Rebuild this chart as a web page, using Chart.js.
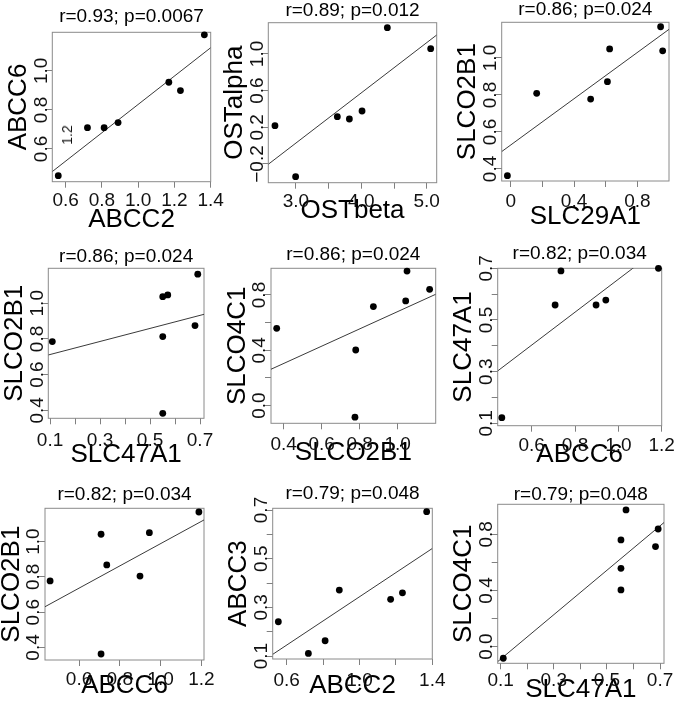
<!DOCTYPE html>
<html>
<head>
<meta charset="utf-8">
<script src="https://cdn.jsdelivr.net/npm/chart.js@4.4.1/dist/chart.umd.min.js"></script>
<style>
  body { margin: 0; background: #fff; }
  #fig { position: relative; width: 680px; height: 713px; font-family: "Liberation Sans", Arial, sans-serif; }
  #fig canvas { position: absolute; left: 0; top: 0; }
  .stray { position: absolute; font-size: 14px; color: #111; transform: translate(-50%, -50%) rotate(-90deg); }
</style>
</head>
<body>
<div id="fig"></div>
<script>
// ---- data ----
const titles = ['r=0.93; p=0.0067', 'r=0.89; p=0.012', 'r=0.86; p=0.024',
                'r=0.86; p=0.024', 'r=0.86; p=0.024', 'r=0.82; p=0.034',
                'r=0.82; p=0.034', 'r=0.79; p=0.048', 'r=0.79; p=0.048'];
const xNames = ['ABCC2', 'OSTbeta', 'SLC29A1', 'SLC47A1', 'SLCO2B1', 'ABCC6', 'ABCC6', 'ABCC2', 'SLC47A1'];
const yNames = ['ABCC6', 'OSTalpha', 'SLCO2B1', 'SLCO2B1', 'SLCO4C1', 'SLC47A1', 'SLCO2B1', 'ABCC3', 'SLCO4C1'];

const p1x = [0.559, 0.720, 0.812, 0.889, 1.169, 1.233, 1.365];
const p1y = [0.463, 0.709, 0.709, 0.735, 0.942, 0.899, 1.185];
const p2x = [2.679, 2.995, 3.633, 3.817, 4.011, 4.398, 5.061];
const p2y = [0.218, -0.338, 0.316, 0.291, 0.378, 1.287, 1.058];
const p3x = [-0.021, 0.164, 0.505, 0.611, 0.625, 0.947, 0.960];
const p3y = [0.364, 0.809, 0.778, 0.872, 1.049, 1.169, 1.039];
const p4x = [0.109, 0.551, 0.551, 0.571, 0.551, 0.680, 0.691];
const p4y = [0.785, 0.813, 1.037, 1.047, 0.383, 0.875, 1.163];
const p5x = [0.363, 0.779, 0.872, 0.775, 1.042, 1.049, 1.168];
const p5y = [0.559, 0.402, 0.716, -0.084, 0.757, 0.973, 0.841];
const p6x = [0.462, 0.708, 0.735, 0.897, 0.942, 1.185];
const p6y = [0.122, 0.558, 0.690, 0.558, 0.577, 0.700];
const p7x = [0.458, 0.708, 0.736, 0.708, 0.899, 0.945, 1.188];
const p7y = [0.777, 1.042, 0.868, 0.363, 0.805, 1.051, 1.168];
const p8x = [0.554, 0.719, 0.811, 0.889, 1.171, 1.236, 1.369];
const p8y = [0.241, 0.111, 0.163, 0.371, 0.333, 0.360, 0.693];
const p9x = [0.110, 0.553, 0.553, 0.553, 0.572, 0.683, 0.693];
const p9y = [-0.083, 0.404, 0.558, 0.760, 0.974, 0.713, 0.838];

// fitted line: y at the left and right edge of each panel
const fitEnds = [[0.484, 1.119], [-0.203, 1.207], [0.494, 1.155],
                 [0.710, 0.938], [0.263, 0.805], [0.303, 0.785],
                 [0.631, 1.123], [0.107, 0.542], [-0.107, 0.884]];

const xLimits = [[0.526, 1.4], [2.577, 5.153], [-0.057, 1.0],
                 [0.093, 0.716], [0.333, 1.2], [0.443, 1.2],
                 [0.433, 1.213], [0.523, 1.4], [0.089, 0.715]];
const yLimits = [[0.432, 1.198], [-0.404, 1.341], [0.335, 1.193],
                 [0.355, 1.196], [-0.128, 0.993], [0.091, 0.7],
                 [0.329, 1.189], [0.088, 0.707], [-0.119, 1.014]];

const xTicks = [[0.6, 0.8, 1.0, 1.2, 1.4], [3.0, 3.5, 4.0, 4.5, 5.0], [0, 0.2, 0.4, 0.6, 0.8],
                [0.1, 0.2, 0.3, 0.4, 0.5, 0.6, 0.7], [0.4, 0.6, 0.8, 1.0], [0.6, 0.8, 1.0, 1.2],
                [0.6, 0.8, 1.0, 1.2], [0.6, 0.8, 1.0, 1.2, 1.4], [0.1, 0.2, 0.3, 0.4, 0.5, 0.6, 0.7]];
const xTickText = [['0.6', '0.8', '1.0', '1.2', '1.4'], ['3.0', '', '4.0', '', '5.0'], ['0', '', '0.4', '', '0.8'],
                   ['0.1', '', '0.3', '', '0.5', '', '0.7'], ['0.4', '0.6', '0.8', '1.0'], ['0.6', '0.8', '1.0', '1.2'],
                   ['0.6', '0.8', '1.0', '1.2'], ['0.6', '', '1.0', '', '1.4'], ['0.1', '', '0.3', '', '0.5', '', '0.7']];
const yTicks = [[0.6, 0.8, 1.0], [-0.2, 0.2, 0.6, 1.0], [0.4, 0.6, 0.8, 1.0],
                [0.4, 0.6, 0.8, 1.0], [0, 0.2, 0.4, 0.6, 0.8], [0.1, 0.2, 0.3, 0.4, 0.5, 0.6, 0.7],
                [0.4, 0.6, 0.8, 1.0], [0.1, 0.2, 0.3, 0.4, 0.5, 0.6, 0.7], [0, 0.2, 0.4, 0.6, 0.8]];
const yTickText = [['0.6', '0.8', '1.0'], ['\u22120.2', '0.2', '0.6', '1.0'], ['0.4', '0.6', '0.8', '1.0'],
                   ['0.4', '0.6', '0.8', '1.0'], ['0.0', '', '0.4', '', '0.8'], ['0.1', '', '0.3', '', '0.5', '', '0.7'],
                   ['0.4', '0.6', '0.8', '1.0'], ['0.1', '', '0.3', '', '0.5', '', '0.7'], ['0.0', '', '0.4', '', '0.8']];

const xs = [p1x, p2x, p3x, p4x, p5x, p6x, p7x, p8x, p9x];
const ys = [p1y, p2y, p3y, p4y, p5y, p6y, p7y, p8y, p9y];

// ---- layout (plot box in page pixels: left, top, right, bottom) ----
const boxes = [[52.3, 32.3, 210.7, 181.7], [268.3, 22.7, 436.7, 182.7], [501.7, 22.3, 669, 181],
               [48.3, 268.3, 204, 418.3], [271, 268.3, 435.7, 423.3], [497.7, 268.3, 661.7, 425.7],
               [45, 508.3, 204, 660], [272.7, 508.3, 432.3, 659], [497.7, 504.3, 664, 663.3]];
const titleGap = [15.3, 11.7, 12.3, 11.6, 13.3, 15, 13.3, 15, 9.3];
const xLabelGap = [18.3, 18, 19.7, 21.7, 20, 19.3, 18.3, 21, 16.7];
const xTitleGap = [38, 28, 35.7, 36.7, 30, 29.3, 25.7, 26.7, 26.7];

const FONT = '"Liberation Sans", Arial, sans-serif';
const W = 680, H = 713, YAXIS_W = 49, TICK = 6;
const fig = document.getElementById('fig');
const measure = document.createElement('canvas').getContext('2d');
measure.font = '19px ' + FONT;

const frame = {
    id: 'frame',
    beforeDatasetsDraw(chart) {
        const { ctx, chartArea: a } = chart;
        ctx.save();
        ctx.strokeStyle = '#8a8a8a';
        ctx.lineWidth = 1;
        ctx.strokeRect(a.left, a.top, a.right - a.left, a.bottom - a.top);
        ctx.restore();
    }
};

function makePanel(i) {
    const canvas = document.createElement('canvas');
    canvas.width = W;
    canvas.height = H;
    fig.appendChild(canvas);

    const b = boxes[i];
    const titleH = 22.8 + titleGap[i] - 11.4;
    const xAxisH = xTitleGap[i] + 15.6;
    const widest = Math.max(...yTickText[i].map(t => measure.measureText(t).width));

    new Chart(canvas, {
        type: 'scatter',
        data: {
            datasets: [{
                data: xs[i].map((x, k) => ({ x: x, y: ys[i][k] })),
                pointRadius: 3.4,
                backgroundColor: '#000',
                borderWidth: 0,
                clip: false
            }, {
                data: [{ x: xLimits[i][0], y: fitEnds[i][0] }, { x: xLimits[i][1], y: fitEnds[i][1] }],
                showLine: true,
                borderColor: '#3a3a3a',
                borderWidth: 1,
                pointRadius: 0,
                clip: 0
            }]
        },
        options: {
            responsive: false,
            animation: false,
            events: [],
            layout: {
                padding: { left: b[0] - YAXIS_W, top: b[1] - titleH, right: W - b[2], bottom: H - b[3] - xAxisH }
            },
            plugins: {
                legend: { display: false },
                tooltip: { enabled: false },
                title: {
                    display: true,
                    text: titles[i],
                    fullSize: false,
                    color: '#000',
                    font: { family: FONT, size: 19, weight: 'normal' },
                    padding: { top: 0, bottom: titleGap[i] - 11.4 }
                }
            },
            scales: {
                x: {
                    type: 'linear',
                    min: xLimits[i][0],
                    max: xLimits[i][1],
                    afterBuildTicks: s => { s.ticks = xTicks[i].map(v => ({ value: v })); },
                    afterFit: s => { s.height = xAxisH; },
                    ticks: {
                        autoSkip: false, minRotation: 0, maxRotation: 0,
                        padding: xLabelGap[i] - TICK - 10.4,
                        color: '#111',
                        font: { family: FONT, size: 19 },
                        callback: (v, k) => xTickText[i][k]
                    },
                    grid: { drawOnChartArea: false, tickLength: TICK, color: '#808080' },
                    border: { display: false },
                    title: { display: true, text: xNames[i], color: '#000', padding: 0, font: { family: FONT, size: 26 } }
                },
                y: {
                    type: 'linear',
                    min: yLimits[i][0],
                    max: yLimits[i][1],
                    afterBuildTicks: s => { s.ticks = yTicks[i].map(v => ({ value: v })); },
                    afterFit: s => { s.width = YAXIS_W; },
                    ticks: {
                        autoSkip: false, minRotation: 90, maxRotation: 90,
                        crossAlign: 'center',
                        padding: 11 - TICK - widest / 2,
                        color: '#111',
                        font: { family: FONT, size: 19 },
                        callback: (v, k) => yTickText[i][k]
                    },
                    grid: { drawOnChartArea: false, tickLength: TICK, color: '#808080' },
                    border: { display: false },
                    title: { display: true, text: yNames[i], color: '#000', padding: 0, font: { family: FONT, size: 26 } }
                }
            }
        },
        plugins: [frame]
    });
}

for (let i = 0; i < 9; i++) makePanel(i);

// stray "1.2" label printed inside the first panel
const stray = document.createElement('div');
stray.className = 'stray';
stray.style.left = '67px';
stray.style.top = '135px';
stray.textContent = '1.2';
fig.appendChild(stray);
</script>
</body>
</html>
